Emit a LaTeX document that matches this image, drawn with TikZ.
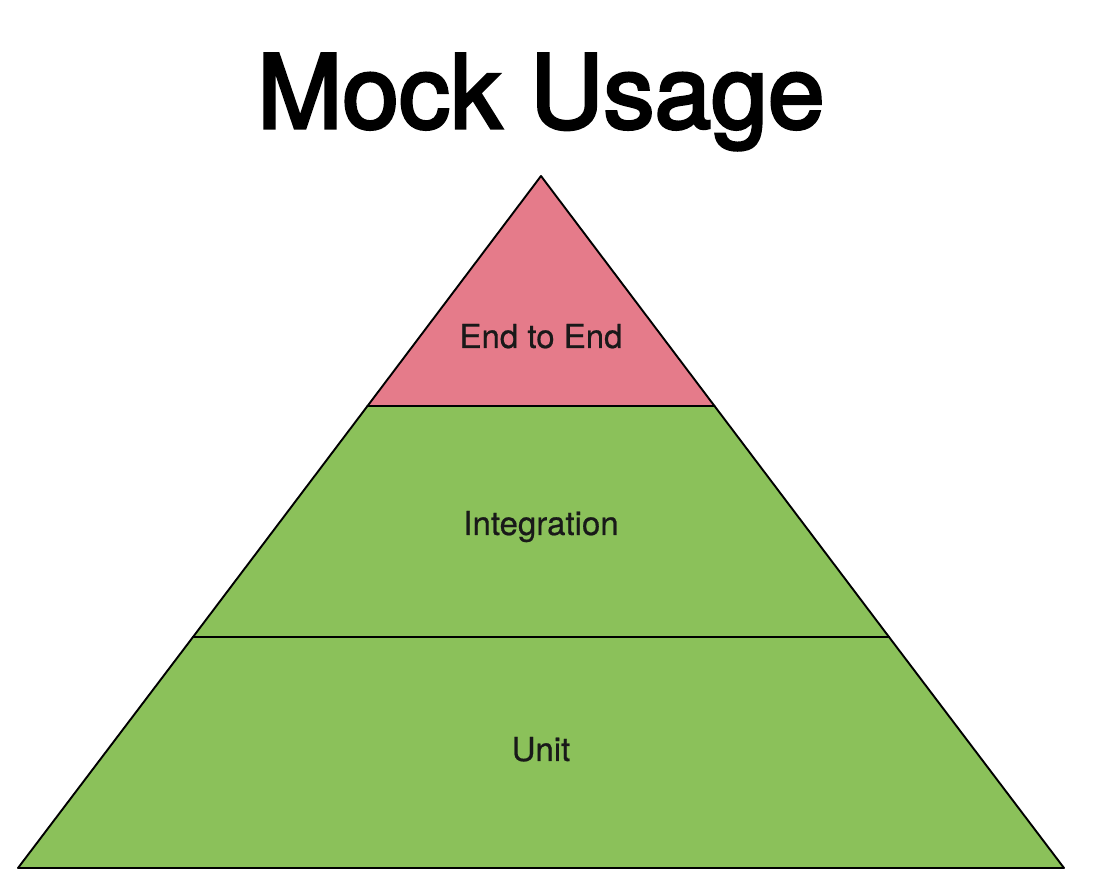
\documentclass[tikz,border=0pt]{standalone}
\usepackage{fontspec}
\setmainfont{TeX Gyre Heros}
\newfontfamily\headingfont{TeX Gyre Heros}[FakeBold=3]
\newfontfamily\tierfont{TeX Gyre Heros}[FakeBold=0.6]
\definecolor{toppink}{HTML}{E57B8A}
\definecolor{layergreen}{HTML}{8BC15A}
\begin{document}
\begin{tikzpicture}[x=1pt,y=1pt,
  layer/.style={draw=black,line width=1.9pt,line join=round},
  tier/.style={font=\tierfont\fontsize{33}{36}\selectfont,anchor=base,text=black!90}]
\useasboundingbox (0,0) rectangle (1094,896);
\fill[white] (0,0) rectangle (1094,896);
% pyramid corners
\coordinate (apex) at (541,720);
\coordinate (bl) at (18,28);
\coordinate (br) at (1064,28);
\coordinate (ml1) at (367.5,490);
\coordinate (mr1) at (714.5,490);
\coordinate (ml2) at (193,259);
\coordinate (mr2) at (889,259);
% layers
\filldraw[layer,fill=layergreen] (bl) -- (br) -- (mr2) -- (ml2) -- cycle;
\filldraw[layer,fill=layergreen] (ml2) -- (mr2) -- (mr1) -- (ml1) -- cycle;
\filldraw[layer,fill=toppink] (ml1) -- (mr1) -- (apex) -- cycle;
% labels
\node[anchor=base,font=\headingfont\fontsize{102}{110}\selectfont] (title) at (541,768) {Mock Usage};
\node[tier] (e2e) at (541,548) {End to End};
\node[tier] (integ) at (541,361) {Integration};
\node[tier] (unit) at (541,135) {Unit};
\end{tikzpicture}
\end{document}
